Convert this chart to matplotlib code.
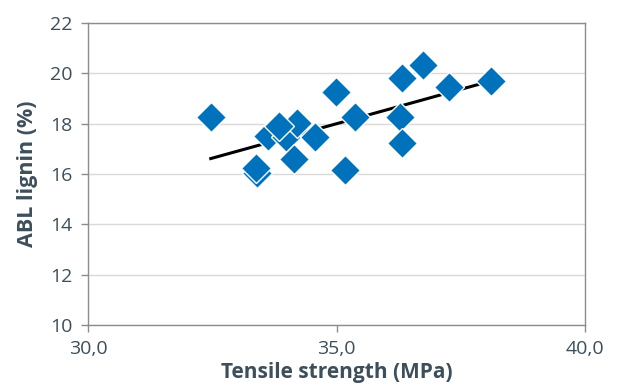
import numpy as np
import matplotlib
matplotlib.use('Agg')
import matplotlib.pyplot as plt

tensile = [32.47, 33.40, 33.38, 33.62, 33.98, 34.20, 33.84, 34.14, 34.57,
           34.99, 35.37, 35.17, 36.32, 36.74, 36.28, 36.32, 37.26, 38.11]
lignin = [18.27, 16.04, 16.24, 17.51, 17.47, 18.03, 17.91, 16.60, 17.47,
          19.26, 18.27, 16.16, 19.81, 20.33, 18.27, 17.23, 19.46, 19.70]

x_ticks = [30, 35, 40]
x_labels = ["30,0", "35,0", "40,0"]
y_ticks = [10, 12, 14, 16, 18, 20, 22]

text_col = '#3d4f5b'
grid_col = '#d9d9d9'
axis_col = '#8c8c8c'

plt.rcParams['font.family'] = ['Open Sans', 'DejaVu Sans']

fig = plt.figure(figsize=(6.25, 3.91), dpi=100)
ax = fig.add_axes([0.1408, 0.1688, 0.7952, 0.7724])

# lineare Trendlinie
k, d = np.polyfit(tensile, lignin, 1)
xl = np.array([min(tensile), max(tensile)])
ax.plot(xl, k * xl + d, color='black', lw=2.2, zorder=2)

ax.plot(tensile, lignin, 'D', ms=15, color='#0072bb', mec='white', mew=1,
        zorder=3)

ax.set_xlim(30, 40)
ax.set_ylim(10, 22)
ax.set_xticks(x_ticks)
ax.set_xticklabels(x_labels)
ax.set_yticks(y_ticks)
ax.grid(axis='y', color=grid_col, lw=1)
ax.set_axisbelow(True)
for s in ax.spines.values():
    s.set_color(axis_col)
    s.set_linewidth(1)
ax.tick_params(colors=axis_col, labelcolor=text_col, labelsize=14,
               length=5, width=1)
ax.tick_params(axis='y', pad=6)
ax.tick_params(axis='x', pad=6)
ax.set_xlabel("Tensile strength (MPa)", fontsize=15, fontweight='bold',
              color=text_col, labelpad=3)
ax.set_ylabel("ABL lignin (%)", fontsize=15.5, fontweight='bold',
              color=text_col, labelpad=9)

fig.savefig('out.png', dpi=100)
